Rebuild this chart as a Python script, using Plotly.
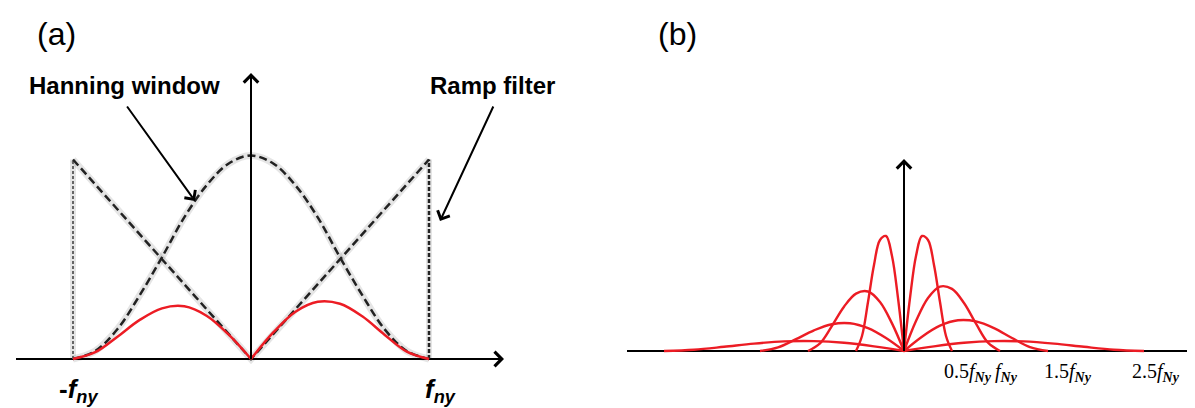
import plotly.graph_objects as go

# ---------------- Panel (a) data (x in units of f_ny, y relative to ramp peak) ----------------
a_x = [-1, -0.875, -0.75, -0.625, -0.5, -0.375, -0.25, -0.125, 0,
       0.125, 0.25, 0.375, 0.5, 0.625, 0.75, 0.875, 1]
hanning_y = [0, 0.04, 0.15, 0.32, 0.51, 0.71, 0.87, 0.98, 1.02,
             0.98, 0.87, 0.71, 0.51, 0.32, 0.15, 0.04, 0]
ramp_x = [-1, 0, 1]
ramp_y = [1, 0, 1]
edge_x = [-1, 1]
edge_top = [1, 1]
product_y = [0, 0.034, 0.112, 0.196, 0.254, 0.264, 0.217, 0.122, 0,
             0.133, 0.237, 0.287, 0.277, 0.214, 0.122, 0.037, 0]
a_labels = ["-<i>f</i><sub><i>ny</i></sub>", "<i>f</i><sub><i>ny</i></sub>"]
a_label_x = [-1, 1]

# ---------------- Panel (b) data (x in units of f_Ny) ----------------
c1_x = [-0.5, -0.4375, -0.375, -0.3125, -0.25, -0.1875, -0.125, -0.0625, 0,
        0.0625, 0.125, 0.1875, 0.25, 0.3125, 0.375, 0.4375, 0.5]
c1_y = [0, 0.15, 0.49, 0.86, 1.11, 1.15, 0.95, 0.53, 0,
        0.53, 0.95, 1.15, 1.11, 0.86, 0.49, 0.15, 0]
c2_x = [-1, -0.875, -0.75, -0.625, -0.5, -0.375, -0.25, -0.125, 0,
        0.125, 0.25, 0.375, 0.5, 0.625, 0.75, 0.875, 1]
c2_y = [0, 0.076, 0.252, 0.443, 0.574, 0.595, 0.490, 0.276, 0,
        0.299, 0.530, 0.644, 0.621, 0.480, 0.273, 0.083, 0]
c3_x = [-1.5, -1.3125, -1.125, -0.9375, -0.75, -0.5625, -0.375, -0.1875, 0,
        0.1875, 0.375, 0.5625, 0.75, 0.9375, 1.125, 1.3125, 1.5]
c3_y = [0, 0.036, 0.118, 0.207, 0.268, 0.277, 0.228, 0.129, 0,
        0.143, 0.253, 0.307, 0.296, 0.229, 0.130, 0.039, 0]
c4_x = [-2.5, -2.1875, -1.875, -1.5625, -1.25, -0.9375, -0.625, -0.3125, 0,
        0.3125, 0.625, 0.9375, 1.25, 1.5625, 1.875, 2.1875, 2.5]
c4_y = [0, 0.013, 0.042, 0.074, 0.096, 0.099, 0.082, 0.046, 0,
        0.046, 0.082, 0.099, 0.096, 0.074, 0.042, 0.013, 0]
b_tick_vals = [0.5, 1, 1.5, 2.5]
b_tick_text = ["0.5<i>f</i><sub><i><b>Ny</b></i></sub>", "<i>f</i><sub><i><b>Ny</b></i></sub>",
               "1.5<i>f</i><sub><i><b>Ny</b></i></sub>", "2.5<i>f</i><sub><i><b>Ny</b></i></sub>"]

# ---------------- styles / geometry ----------------
W, H = 1195, 408
RED = "#ec1c24"
SANS = "Liberation Sans, Arial, sans-serif"
SERIF = "Liberation Serif, Times New Roman, serif"
# panel (a): center 243 px, 178 px per f_ny, baseline at 351 px, 199.5 px per unit
ax_c, ax_s, ay_b, ay_s = 243, 178.0, 351, 199.5
# panel (b): center 896 px, 96 px per f_Ny, baseline at 343 px, 100 px per unit
bx_c, bx_s, by_b, by_s = 896, 96.0, 343, 100.0
a_x0, a_x1 = 0, 560
b_x0, b_x1 = 600, 1195

fig = go.Figure()

def line(x, y, color, width, dash="solid", shape="linear", xa="x", ya="y"):
    fig.add_trace(go.Scatter(x=x, y=y, mode="lines", xaxis=xa, yaxis=ya,
                             line=dict(color=color, width=width, dash=dash, shape=shape),
                             hoverinfo="skip"))

# --- panel (a) ---
fuzz = "rgba(0,0,0,0.10)"
line(a_x, hanning_y, fuzz, 7, shape="spline")
line(ramp_x, ramp_y, fuzz, 7)
for i, ex in enumerate(edge_x):
    line([ex, ex], [0, edge_top[i]], fuzz, 6)
line([edge_x[0], edge_x[0]], [0, edge_top[0]], "#666666", 2, dash="3px,2px")
line([edge_x[1], edge_x[1]], [0, edge_top[1]], "#222222", 2.5, dash="4px,2px")
line(a_x, hanning_y, "#222222", 2.5, dash="8px,4px", shape="spline")
line(ramp_x, ramp_y, "#222222", 2.5, dash="8px,4px")
line(a_x[:9], product_y[:9], RED, 2.5, shape="spline")
line(a_x[8:], product_y[8:], RED, 2.5, shape="spline")

# --- panel (b) ---
for cx, cy in [(c4_x, c4_y), (c3_x, c3_y), (c2_x, c2_y), (c1_x, c1_y)]:
    line(cx[:9], cy[:9], RED, 2.4, shape="spline", xa="x2", ya="y2")
    line(cx[8:], cy[8:], RED, 2.4, shape="spline", xa="x2", ya="y2")

def ax_a(px):
    return (px - ax_c) / ax_s

def ay_a(py):
    return (ay_b - py) / ay_s

def bx(px):
    return (px - bx_c) / bx_s

def by(py):
    return (by_b - py) / by_s

shapes = [
    dict(type="line", xref="x", yref="y", x0=ax_a(8), x1=ax_a(494), y0=0, y1=0,
         line=dict(color="black", width=2), layer="below"),
    dict(type="line", xref="x", yref="y", x0=0, x1=0, y0=0, y1=ay_a(67),
         line=dict(color="black", width=2), layer="above"),
    dict(type="line", xref="x2", yref="y2", x0=bx(619), x1=bx(1190), y0=0, y1=0,
         line=dict(color="black", width=2), layer="below"),
    dict(type="line", xref="x2", yref="y2", x0=0, x1=0, y0=0, y1=by(153),
         line=dict(color="black", width=2), layer="above"),
]

ann = []
for xr, yr, x, y, dx, dy in [("x", "y", ax_a(496), 0, -14, 0), ("x", "y", 0, ay_a(65), 0, 14),
                             ("x2", "y2", bx(1192), 0, -14, 0), ("x2", "y2", 0, by(151), 0, 14)]:
    ann.append(dict(xref=xr, yref=yr, x=x, y=y, ax=dx, ay=dy, text="", showarrow=True,
                    arrowhead=4, arrowsize=1.4, arrowwidth=2, arrowcolor="black", standoff=0))
ann.append(dict(xref="x", yref="y", x=ax_a(187), y=ay_a(193), axref="x", ayref="y",
                ax=ax_a(118), ay=ay_a(97), text="", showarrow=True, arrowhead=4,
                arrowsize=1.3, arrowwidth=2, arrowcolor="black", standoff=0))
ann.append(dict(xref="x", yref="y", x=ax_a(432), y=ay_a(213), axref="x", ayref="y",
                ax=ax_a(486), ay=ay_a(97), text="", showarrow=True, arrowhead=4,
                arrowsize=1.3, arrowwidth=2, arrowcolor="black", standoff=0))

def paper_text(txt, px, py, size, bold=False, family=SANS):
    ann.append(dict(xref="paper", yref="paper", x=px / W, y=1 - py / H, text=txt,
                    showarrow=False, xanchor="center", yanchor="middle",
                    font=dict(family=family, size=size, color="black",
                              weight="bold" if bold else "normal")))

paper_text("(a)", 48, 26, 32)
paper_text("(b)", 669, 26, 32)
paper_text("Hanning window", 116, 77, 24, bold=True)
paper_text("Ramp filter", 484, 77, 24, bold=True)

a_shift = [5, 11]
for i, t in enumerate(a_labels):
    ann.append(dict(xref="x", yref="y", x=a_label_x[i], y=ay_a(382), text=t, showarrow=False,
                    xanchor="center", yanchor="middle", xshift=a_shift[i],
                    font=dict(family=SANS, size=26, color="black", weight="bold")))

b_shift = [16, 6, 20, 12]
for i, t in enumerate(b_tick_text):
    ann.append(dict(xref="x2", yref="y2", x=b_tick_vals[i], y=by(364), text=t, showarrow=False,
                    xanchor="center", yanchor="middle", xshift=b_shift[i],
                    font=dict(family=SERIF, size=20, color="black")))

fig.update_layout(
    width=W, height=H, margin=dict(l=0, r=0, t=0, b=0),
    paper_bgcolor="white", plot_bgcolor="white", showlegend=False,
    xaxis=dict(domain=[a_x0 / W, a_x1 / W], range=[ax_a(a_x0), ax_a(a_x1)], visible=False, fixedrange=True),
    yaxis=dict(domain=[0, 1], range=[ay_a(H), ay_a(0)], visible=False, fixedrange=True),
    xaxis2=dict(domain=[b_x0 / W, b_x1 / W], range=[bx(b_x0), bx(b_x1)], visible=False,
                anchor="y2", fixedrange=True),
    yaxis2=dict(domain=[0, 1], range=[by(H), by(0)], visible=False, anchor="x2", fixedrange=True),
    shapes=shapes, annotations=ann,
)

fig.write_html("out.html")
